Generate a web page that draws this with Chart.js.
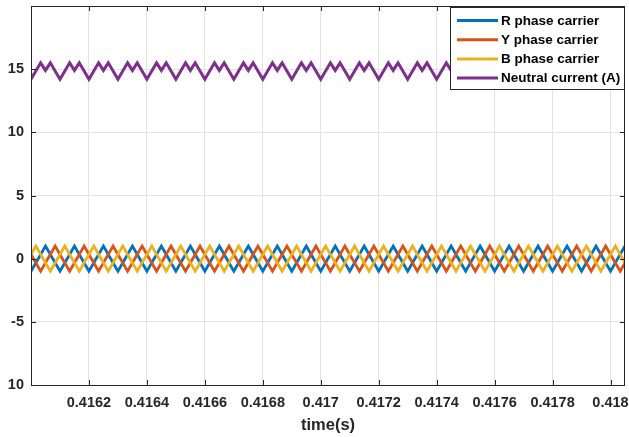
<!DOCTYPE html>
<html>
<head>
<meta charset="utf-8">
<script src="https://cdn.jsdelivr.net/npm/chart.js@4.4.1/dist/chart.umd.min.js"></script>
<style>
  body { margin: 0; background: #fff; }
  #wrap { width: 629px; height: 437px; }
</style>
</head>
<body>
<div id="wrap"><canvas id="chart" width="629" height="437"></canvas></div>
<script>
// window start in seconds; all vertex times below are microseconds after it
const t0 = 0.416;

// R phase carrier (triangle, 10 kHz)
const rTimes = [0, 50, 100, 150, 200, 250, 300, 350, 400, 450, 500, 550, 600, 650, 700, 750,
  800, 850, 900, 950, 1000, 1050, 1100, 1150, 1200, 1250, 1300, 1350, 1400, 1450, 1500, 1550,
  1600, 1650, 1700, 1750, 1800, 1850, 1900, 1950, 2000, 2050];
const rValues = [-1, 1, -1, 1, -1, 1, -1, 1, -1, 1, -1, 1, -1, 1, -1, 1,
  -1, 1, -1, 1, -1, 1, -1, 1, -1, 1, -1, 1, -1, 1, -1, 1,
  -1, 1, -1, 1, -1, 1, -1, 1, -1, 1];

// Y phase carrier
const yTimes = [0, 33.3, 83.3, 133.3, 183.3, 233.3, 283.3, 333.3, 383.3, 433.3, 483.3, 533.3,
  583.3, 633.3, 683.3, 733.3, 783.3, 833.3, 883.3, 933.3, 983.3, 1033.3, 1083.3, 1133.3,
  1183.3, 1233.3, 1283.3, 1333.3, 1383.3, 1433.3, 1483.3, 1533.3, 1583.3, 1633.3, 1683.3,
  1733.3, 1783.3, 1833.3, 1883.3, 1933.3, 1983.3, 2033.3, 2050];
const yValues = [0.33, -1, 1, -1, 1, -1, 1, -1, 1, -1, 1, -1,
  1, -1, 1, -1, 1, -1, 1, -1, 1, -1, 1, -1,
  1, -1, 1, -1, 1, -1, 1, -1, 1, -1, 1,
  -1, 1, -1, 1, -1, 1, -1, -0.33];

// B phase carrier
const bTimes = [0, 16.7, 66.7, 116.7, 166.7, 216.7, 266.7, 316.7, 366.7, 416.7, 466.7, 516.7,
  566.7, 616.7, 666.7, 716.7, 766.7, 816.7, 866.7, 916.7, 966.7, 1016.7, 1066.7, 1116.7,
  1166.7, 1216.7, 1266.7, 1316.7, 1366.7, 1416.7, 1466.7, 1516.7, 1566.7, 1616.7, 1666.7,
  1716.7, 1766.7, 1816.7, 1866.7, 1916.7, 1966.7, 2016.7, 2050];
const bValues = [0.33, 1, -1, 1, -1, 1, -1, 1, -1, 1, -1, 1,
  -1, 1, -1, 1, -1, 1, -1, 1, -1, 1, -1, 1,
  -1, 1, -1, 1, -1, 1, -1, 1, -1, 1, -1,
  1, -1, 1, -1, 1, -1, 1, -0.33];

// neutral current (A)
const nTimes = [0, 33.3, 50, 66.7, 100, 133.3, 150, 166.7, 200, 233.3, 250, 266.7,
  300, 333.3, 350, 366.7, 400, 433.3, 450, 466.7, 500, 533.3, 550, 566.7,
  600, 633.3, 650, 666.7, 700, 733.3, 750, 766.7, 800, 833.3, 850, 866.7,
  900, 933.3, 950, 966.7, 1000, 1033.3, 1050, 1066.7, 1100, 1133.3, 1150, 1166.7,
  1200, 1233.3, 1250, 1266.7, 1300, 1333.3, 1350, 1366.7, 1400, 1433.3, 1450, 1466.7,
  1500, 1533.3, 1550, 1566.7, 1600, 1633.3, 1650, 1666.7, 1700, 1733.3, 1750, 1766.7,
  1800, 1833.3, 1850, 1866.7, 1900, 1933.3, 1950, 1966.7, 2000, 2033.3, 2050];
const nValues = [14.2, 15.5, 14.9, 15.5, 14.2, 15.5, 14.9, 15.5, 14.2, 15.5, 14.9, 15.5,
  14.2, 15.5, 14.9, 15.5, 14.2, 15.5, 14.9, 15.5, 14.2, 15.5, 14.9, 15.5,
  14.2, 15.5, 14.9, 15.5, 14.2, 15.5, 14.9, 15.5, 14.2, 15.5, 14.9, 15.5,
  14.2, 15.5, 14.9, 15.5, 14.2, 15.5, 14.9, 15.5, 14.2, 15.5, 14.9, 15.5,
  14.2, 15.5, 14.9, 15.5, 14.2, 15.5, 14.9, 15.5, 14.2, 15.5, 14.9, 15.5,
  14.2, 15.5, 14.9, 15.5, 14.2, 15.5, 14.9, 15.5, 14.2, 15.5, 14.9, 15.5,
  14.2, 15.5, 14.9, 15.5, 14.2, 15.5, 14.9, 15.5, 14.2, 15.5, 14.9];

const xTickValues = [0.4162, 0.4164, 0.4166, 0.4168, 0.417, 0.4172, 0.4174, 0.4176, 0.4178, 0.418];
const xTickLabels = ['0.4162', '0.4164', '0.4166', '0.4168', '0.417', '0.4172', '0.4174', '0.4176', '0.4178', '0.418'];
const yTickValues = [-10, -5, 0, 5, 10, 15];
const yTickLabels = ['10', '-5', '0', '5', '10', '15'];

const FONT = '"Liberation Sans", Arial, sans-serif';
const AXIS = '#262626';
const GRID = '#e3e3e3';

function toPoints(times, values) {
  return times.map((us, i) => ({ x: t0 + us / 1e6, y: values[i] }));
}

// keep the plot box fixed: no extra room for overhanging edge labels
function noEdgePadding(s) {
  s.paddingLeft = 0;
  s.paddingRight = 0;
  s.paddingTop = 0;
  s.paddingBottom = 0;
}

// box outline, inward tick marks on all four sides, and the legend inside the axes
const boxPlugin = {
  id: 'box',
  afterDraw(chart) {
    const ctx = chart.ctx;
    const { left, right, top, bottom } = chart.chartArea;
    const xs = chart.scales.x, ys = chart.scales.y;
    const tl = 5;
    ctx.save();
    ctx.strokeStyle = AXIS;
    ctx.lineWidth = 1;
    ctx.beginPath();
    xTickValues.forEach((v) => {
      const px = Math.round(xs.getPixelForValue(v)) + 0.5;
      ctx.moveTo(px, bottom); ctx.lineTo(px, bottom - tl);
      ctx.moveTo(px, top); ctx.lineTo(px, top + tl);
    });
    yTickValues.forEach((v) => {
      const py = Math.round(ys.getPixelForValue(v)) + 0.5;
      ctx.moveTo(left, py); ctx.lineTo(left + tl, py);
      ctx.moveTo(right, py); ctx.lineTo(right - tl, py);
    });
    ctx.stroke();
    ctx.strokeRect(Math.round(left) + 0.5, Math.round(top) + 0.5,
      Math.round(right - left) - 1, Math.round(bottom - top));

    // legend
    const lx = 450, ly = 7, lw = 174, lh = 82;
    ctx.fillStyle = '#fff';
    ctx.fillRect(lx, ly, lw, lh);
    ctx.strokeRect(lx + 0.5, ly + 0.5, lw, lh);
    ctx.font = 'bold 13.5px ' + FONT;
    ctx.textBaseline = 'middle';
    ctx.textAlign = 'left';
    chart.data.datasets.forEach((ds, i) => {
      const cy = ly + 13.5 + i * 19.2;
      ctx.strokeStyle = ds.borderColor;
      ctx.lineWidth = 3;
      ctx.beginPath();
      ctx.moveTo(457, cy); ctx.lineTo(498, cy);
      ctx.stroke();
      ctx.fillStyle = '#000';
      ctx.fillText(ds.label, 501, cy + 0.5);
    });
    ctx.restore();
  }
};

new Chart(document.getElementById('chart'), {
  type: 'line',
  data: {
    datasets: [
      { label: 'R phase carrier', data: toPoints(rTimes, rValues), borderColor: '#0072BD', borderWidth: 2.8, order: 3 },
      { label: 'Y phase carrier', data: toPoints(yTimes, yValues), borderColor: '#D95319', borderWidth: 2.8, order: 2 },
      { label: 'B phase carrier', data: toPoints(bTimes, bValues), borderColor: '#EDB120', borderWidth: 2.8, order: 1 },
      { label: 'Neutral current (A)', data: toPoints(nTimes, nValues), borderColor: '#7E2F8E', borderWidth: 3, order: 0 }
    ]
  },
  options: {
    responsive: false,
    animation: false,
    events: [],
    layout: { padding: { top: 6, right: 4, left: 0, bottom: 0 } },
    elements: { point: { radius: 0 }, line: { tension: 0, fill: false } },
    datasets: { line: { clip: 0 } },
    plugins: { legend: { display: false }, tooltip: { enabled: false } },
    scales: {
      x: {
        type: 'linear',
        min: 0.416,
        max: 0.41805,
        afterBuildTicks: (s) => { s.ticks = xTickValues.map((v) => ({ value: v })); },
        afterFit: (s) => { s.height = 52; noEdgePadding(s); },
        ticks: {
          callback: (v, i) => xTickLabels[i],
          font: { family: FONT, size: 14.5, weight: 'bold' },
          color: AXIS,
          padding: 9,
          maxRotation: 0,
          autoSkip: false
        },
        grid: { color: GRID, drawTicks: false },
        border: { display: false },
        title: {
          display: true,
          text: 'time(s)',
          color: AXIS,
          font: { family: FONT, size: 16.5, weight: 'bold' },
          padding: { top: 0, bottom: 2 }
        }
      },
      y: {
        min: -10,
        max: 20,
        afterBuildTicks: (s) => { s.ticks = yTickValues.map((v) => ({ value: v })); },
        afterFit: (s) => { s.width = 31; noEdgePadding(s); },
        ticks: {
          callback: (v, i) => yTickLabels[i],
          font: { family: FONT, size: 14.5, weight: 'bold' },
          color: AXIS,
          padding: 7
        },
        grid: { color: GRID, drawTicks: false },
        border: { display: false }
      }
    }
  },
  plugins: [boxPlugin]
});
</script>
</body>
</html>
